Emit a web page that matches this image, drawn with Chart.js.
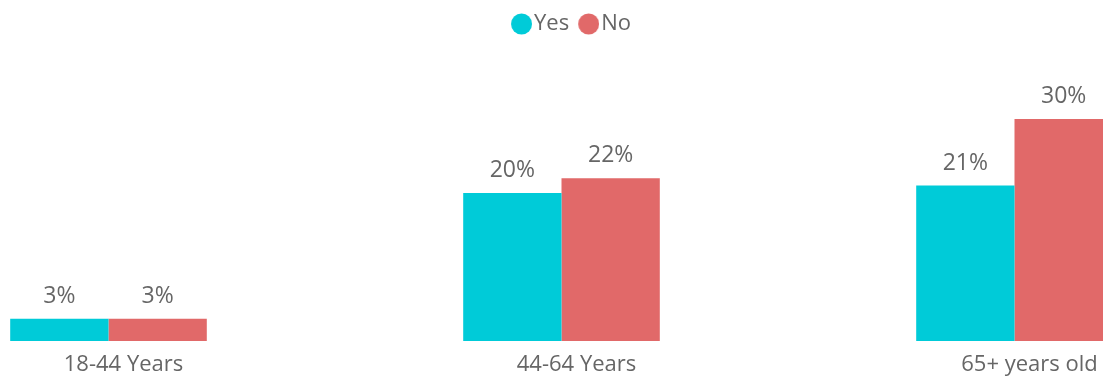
<!DOCTYPE html>
<html lang="en">
<head>
    <meta charset="UTF-8">
    <title>Yes / No by Age Group</title>
    <script src="https://cdn.jsdelivr.net/npm/chart.js"></script>
    <style>
        html, body {
            margin: 0;
            padding: 0;
            background: #fff;
            overflow: hidden;
        }
        #chartContainer {
            position: absolute;
            left: -118px;
            top: 0;
            width: 1379px;
            height: 377px;
        }
    </style>
</head>
<body>
    <div id="chartContainer">
        <canvas id="myChart"></canvas>
    </div>

    <script>
        const ageGroups = ['18-44 Years', '44-64 Years', '65+ years old'];
        const yesValues = [3, 20, 21];
        const noValues = [3, 22, 30];

        const YES_COLOR = '#00CBD8';
        const NO_COLOR = '#E16969';
        const TEXT_COLOR = '#666666';

        Chart.defaults.font.family = '"Segoe UI", "Open Sans", sans-serif';
        Chart.defaults.font.size = 22;
        Chart.defaults.color = TEXT_COLOR;

        // legend marker: circle pushed to the right edge so it sits close to its text
        function legendDot(color) {
            const c = document.createElement('canvas');
            c.width = 29;
            c.height = 22;
            const g = c.getContext('2d');
            g.fillStyle = color;
            g.beginPath();
            g.arc(18.5, 11, 10.5, 0, Math.PI * 2);
            g.fill();
            return c;
        }
        const dots = [legendDot(YES_COLOR), legendDot(NO_COLOR)];

        // percentage labels above each bar
        const barValueLabels = {
            id: 'barValueLabels',
            afterDatasetsDraw(chart) {
                const ctx = chart.ctx;
                ctx.save();
                ctx.font = '23px "Segoe UI", "Open Sans", sans-serif';
                ctx.fillStyle = TEXT_COLOR;
                ctx.textAlign = 'center';
                ctx.textBaseline = 'alphabetic';
                chart.data.datasets.forEach((ds, i) => {
                    chart.getDatasetMeta(i).data.forEach((bar, j) => {
                        ctx.fillText(ds.data[j] + '%', bar.x, bar.y - 16);
                    });
                });
                ctx.restore();
            }
        };

        const ctx = document.getElementById('myChart').getContext('2d');

        new Chart(ctx, {
            type: 'bar',
            data: {
                labels: ageGroups,
                datasets: [
                    { label: 'Yes', data: yesValues, backgroundColor: YES_COLOR },
                    { label: 'No', data: noValues, backgroundColor: NO_COLOR }
                ]
            },
            options: {
                responsive: true,
                maintainAspectRatio: false,
                animation: false,
                events: [],
                layout: { padding: { top: 3, left: 0, right: 0, bottom: 0 } },
                datasets: {
                    bar: { categoryPercentage: 0.434, barPercentage: 1.0 }
                },
                scales: {
                    x: {
                        grid: { display: false, drawTicks: false },
                        border: { display: false },
                        ticks: { padding: 11, labelOffset: 15, font: { size: 22 } },
                        afterFit: scale => { scale.height = 36; }
                    },
                    y: {
                        position: 'right',
                        min: 0,
                        max: 40,
                        grid: { display: false, drawTicks: false },
                        border: { display: false },
                        ticks: { display: false },
                        afterFit: scale => { scale.width = 20; }
                    }
                },
                plugins: {
                    tooltip: { enabled: false },
                    legend: {
                        display: true,
                        position: 'top',
                        labels: {
                            usePointStyle: true,
                            pointStyleWidth: 11,
                            boxHeight: 22,
                            padding: 10,
                            font: { size: 22 },
                            color: TEXT_COLOR,
                            generateLabels: chart => {
                                const items = Chart.defaults.plugins.legend.labels.generateLabels(chart);
                                items.forEach((item, i) => { item.pointStyle = dots[i]; });
                                return items;
                            }
                        }
                    }
                }
            },
            plugins: [barValueLabels]
        });
    </script>
</body>
</html>
